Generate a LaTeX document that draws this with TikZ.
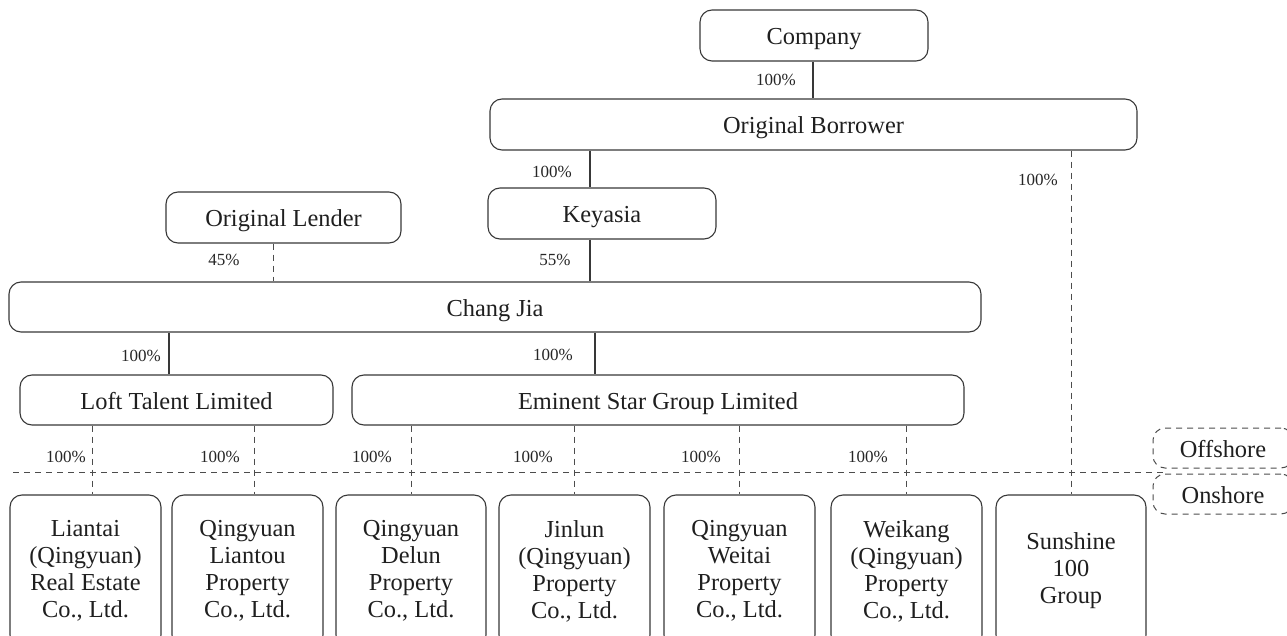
\documentclass[tikz,border=0pt]{standalone}
\usepackage{fontspec}
\setmainfont{Liberation Serif}
\begin{document}
\begin{tikzpicture}[x=1pt,y=-1pt,
  boxbase/.style={draw=black!78, line width=1.1pt, rounded corners=12pt, inner sep=0pt,
    font=\fontsize{24.4}{27}\selectfont, text=black!88, align=center},
  box/.style={boxbase, minimum height=51pt, text height=22pt, text depth=3.4pt},
  lowbox/.style={boxbase, minimum width=151pt, minimum height=152pt},
  shorebox/.style={draw=black!70, line width=1pt, dash pattern=on 6pt off 5pt, rounded corners=12pt,
    inner sep=0pt, minimum width=140pt, minimum height=40pt, text height=22pt, text depth=3.4pt,
    font=\fontsize{24.4}{27}\selectfont, text=black!88},
  pct/.style={font=\fontsize{17}{20}\selectfont, text=black!85, inner sep=0pt},
  solidlink/.style={draw=black!78, line width=1.1pt},
  dashlink/.style={draw=black!70, line width=1pt, dash pattern=on 6pt off 5pt},
]
\useasboundingbox (0,0) rectangle (1287,636);
\clip (0,0) rectangle (1287,636);

% upper boxes
\node[box, minimum width=228pt] (company) at (814,35.5) {Company};
\node[box, minimum width=647pt] (ob) at (813.5,124.5) {Original Borrower};
\node[box, minimum width=228pt] (keyasia) at (602,213.5) {Keyasia};
\node[box, minimum width=235pt] (lender) at (283.5,217.5) {Original Lender};
\node[box, minimum width=972pt, minimum height=50pt] (changjia) at (495,307) {Chang Jia};
\node[box, minimum width=313pt, minimum height=50pt] (loft) at (176.5,400) {Loft Talent Limited};
\node[box, minimum width=612pt, minimum height=50pt] (eminent) at (658,400) {Eminent Star Group Limited};

% lower boxes
\node[lowbox] (b1) at (85.5,571) {Liantai\\(Qingyuan)\\Real Estate\\Co., Ltd.};
\node[lowbox] (b2) at (247.5,571) {Qingyuan\\Liantou\\Property\\Co., Ltd.};
\node[lowbox, minimum width=150pt] (b3) at (411,571) {Qingyuan\\Delun\\Property\\Co., Ltd.};
\node[lowbox] (b4) at (574.5,571) {Jinlun\\(Qingyuan)\\Property\\Co., Ltd.};
\node[lowbox] (b5) at (739.5,571) {Qingyuan\\Weitai\\Property\\Co., Ltd.};
\node[lowbox] (b6) at (906.5,571) {Weikang\\(Qingyuan)\\Property\\Co., Ltd.};
\node[lowbox, minimum width=150pt] (b7) at (1071,571) {Sunshine\\100\\Group};

% offshore / onshore
\node[shorebox] (offshore) at (1223,448) {Offshore};
\node[shorebox] (onshore) at (1223,494) {Onshore};
\coordinate (divl) at (13,472);
\coordinate (divr) at (1165,472);
\draw[dashlink] (divl) -- (divr);

% connectors
\draw[solidlink] (company.south -| 813,0) -- (ob.north -| 813,0);
\draw[solidlink] (ob.south -| 590,0) -- (keyasia.north -| 590,0);
\draw[solidlink] (keyasia.south -| 590,0) -- (changjia.north -| 590,0);
\draw[dashlink] (lender.south -| 273,0) -- (changjia.north -| 273,0);
\draw[solidlink] (changjia.south -| 169,0) -- (loft.north -| 169,0);
\draw[solidlink] (changjia.south -| 595,0) -- (eminent.north -| 595,0);
\draw[dashlink] (loft.south -| 92,0) -- (b1.north -| 92,0);
\draw[dashlink] (loft.south -| 254,0) -- (b2.north -| 254,0);
\draw[dashlink] (eminent.south -| 411,0) -- (b3.north -| 411,0);
\draw[dashlink] (eminent.south -| 574,0) -- (b4.north -| 574,0);
\draw[dashlink] (eminent.south -| 739,0) -- (b5.north -| 739,0);
\draw[dashlink] (eminent.south -| 906,0) -- (b6.north -| 906,0);
\draw[dashlink] (ob.south -| 1071,0) -- (b7.north -| 1071,0);

% percentage labels
\node[pct] (p1) at (776,80) {100\%};
\node[pct] (p2) at (552,172) {100\%};
\node[pct] (p3) at (555,260) {55\%};
\node[pct] (p4) at (224,260) {45\%};
\node[pct] (p5) at (1038,180) {100\%};
\node[pct] (p6) at (141,356) {100\%};
\node[pct] (p7) at (553,355) {100\%};
\node[pct] (p8) at (66,457) {100\%};
\node[pct] (p9) at (220,457) {100\%};
\node[pct] (p10) at (372,457) {100\%};
\node[pct] (p11) at (533,457) {100\%};
\node[pct] (p12) at (701,457) {100\%};
\node[pct] (p13) at (868,457) {100\%};
\end{tikzpicture}
\end{document}
